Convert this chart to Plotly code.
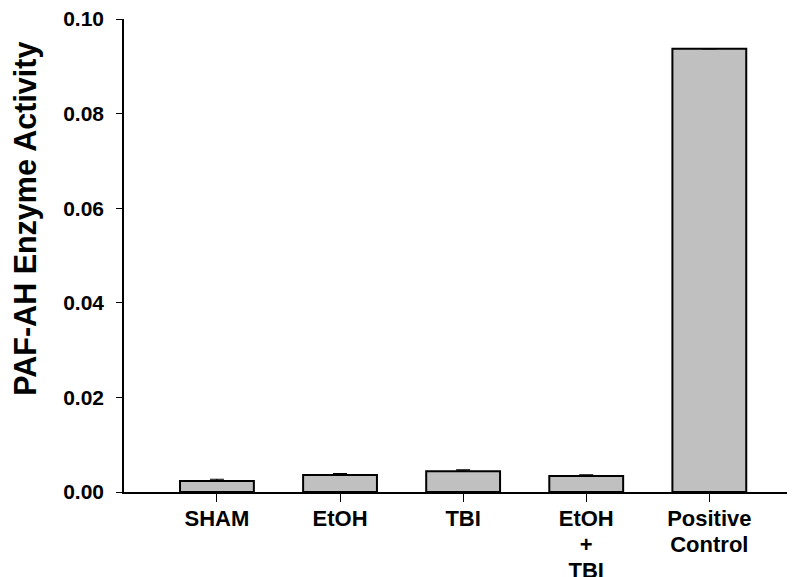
import plotly.graph_objects as go

categories = ["SHAM", "EtOH", "TBI", "EtOH<br>+<br>TBI", "Positive<br>Control"]
values = [0.0023, 0.0036, 0.0044, 0.0034, 0.0937]
errors = [0.0004, 0.0003, 0.0003, 0.0002, 0.0]
y_ticks = [0.00, 0.02, 0.04, 0.06, 0.08, 0.10]
y_tick_labels = ["0.00", "0.02", "0.04", "0.06", "0.08", "0.10"]
y_title = "PAF-AH Enzyme Activity"

FONT = "Liberation Sans, Arial, sans-serif"
xpos = list(range(len(categories)))
# larger glyphs while keeping the line spacing of a 20px font
x_ticktext = ["<br>".join('<span style="font-size:22px">%s</span>' % part
                          for part in c.split("<br>")) for c in categories]

# page body has an 8px margin: shrink the figure so it fits the window
OFF = 8
W, H = 795 - OFF, 577 - OFF
L, T = 124 - OFF, 19 - OFF
B = H - (492.5 - OFF)
PW, PH = W - L, H - T - B

fig = go.Figure()
fig.add_trace(go.Bar(
    x=xpos, y=values, width=0.6,
    marker=dict(color="#c0c0c0", line=dict(color="black", width=2)),
    error_y=dict(type="data", symmetric=False, array=errors,
                 arrayminus=[0] * len(errors),
                 color="black", thickness=1.2, width=7),
    showlegend=False,
))

fig.update_layout(
    width=W, height=H,
    margin=dict(l=L, r=0, t=T, b=B, pad=0),
    plot_bgcolor="white", paper_bgcolor="white",
    font=dict(family=FONT, color="black"),
    xaxis=dict(
        range=[-0.755, 4.696], automargin=False,
        tickmode="array", tickvals=xpos, ticktext=x_ticktext,
        ticks="outside", ticklen=8, tickwidth=1.2, tickcolor="black",
        showline=True, linecolor="black", linewidth=1.8,
        showgrid=False, zeroline=False, ticklabeloverflow="allow",
        tickfont=dict(family=FONT, size=20, weight="bold", color="black"),
    ),
    yaxis=dict(
        range=[0, 0.1], automargin=False,
        tickmode="array", tickvals=y_ticks, ticktext=y_tick_labels,
        ticks="outside", ticklen=6, tickwidth=1.2, tickcolor="black",
        showline=True, linecolor="black", linewidth=1.5,
        showgrid=False, zeroline=False, ticklabeloverflow="allow",
        ticklabelstandoff=8,
        tickfont=dict(family=FONT, size=21, weight="bold", color="black"),
    ),
    annotations=[dict(
        text=y_title, textangle=-90,
        xref="paper", yref="paper",
        x=((26 - OFF) - L) / PW, y=((492.5 - OFF) - (219 - OFF)) / PH,
        xanchor="center", yanchor="middle", showarrow=False,
        font=dict(family=FONT, size=30.5, weight="bold", color="black"),
    )],
)

fig.write_html("out.html")
